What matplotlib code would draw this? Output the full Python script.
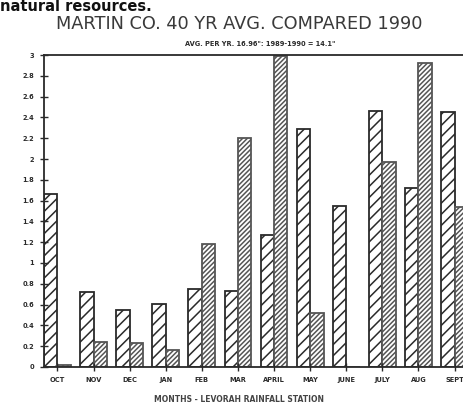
import matplotlib
matplotlib.use('Agg')
import matplotlib.pyplot as plt
import numpy as np

# monthly rainfall (inches)
months = ['OCT', 'NOV', 'DEC', 'JAN', 'FEB', 'MAR', 'APRIL', 'MAY', 'JUNE', 'JULY', 'AUG', 'SEPT']
avg_40yr = [1.66, 0.72, 0.55, 0.61, 0.75, 0.73, 1.27, 2.29, 1.55, 2.46, 1.72, 2.45]
rain_1990 = [0.02, 0.24, 0.23, 0.16, 1.18, 2.20, 2.99, 0.52, 0.0, 1.97, 2.92, 1.54]
y_ticks = [0, 0.2, 0.4, 0.6, 0.8, 1, 1.2, 1.4, 1.6, 1.8, 2, 2.2, 2.4, 2.6, 2.8, 3]

plt.rcParams['hatch.linewidth'] = 1.1
ink = '#2a2a2a'

fig = plt.figure(figsize=(4.64, 4.05), dpi=100)
ax = fig.add_axes([0.095, 0.094, 0.915, 0.770])

x = np.arange(len(months))
w = 0.37
ax.bar(x - w / 2, avg_40yr, width=w, facecolor='white', edgecolor=ink,
       hatch='///', linewidth=1.3)
ax.bar(x + w / 2, rain_1990, width=w, facecolor='white', edgecolor='#555555',
       hatch='///////', linewidth=1.3)

ax.set_xlim(-w, len(months) - 1 + w + 0.02)
ax.set_ylim(0, 3)
ax.set_xticks(x)
ax.set_xticklabels(months, fontsize=4.8, fontweight='bold', color=ink)
ax.set_yticks(y_ticks)
ax.set_yticklabels([f'{t:g}' for t in y_ticks], fontsize=4.8, fontweight='bold', color=ink)
ax.tick_params(direction='inout', length=6, width=1.0, color=ink, pad=4)

for s in ['left', 'bottom', 'top']:
    ax.spines[s].set_color(ink)
    ax.spines[s].set_linewidth(1.3)
ax.spines['right'].set_visible(False)

fig.text(0.0, 0.972, 'natural resources.', fontsize=10.5, fontweight='bold',
         color='#111111', ha='left', va='baseline')
fig.text(0.515, 0.940, 'MARTIN CO. 40 YR AVG. COMPARED 1990', fontsize=12.8,
         color='#3a3a3a', ha='center', va='center')
fig.text(0.56, 0.892, 'AVG. PER YR. 16.96": 1989-1990 = 14.1"', fontsize=4.8,
         fontweight='bold', color=ink, ha='center', va='center')
fig.text(0.515, 0.014, 'MONTHS - LEVORAH RAINFALL STATION', fontsize=5.5,
         fontweight='bold', color='#444444', ha='center', va='center')

fig.savefig('out.png', dpi=100)
